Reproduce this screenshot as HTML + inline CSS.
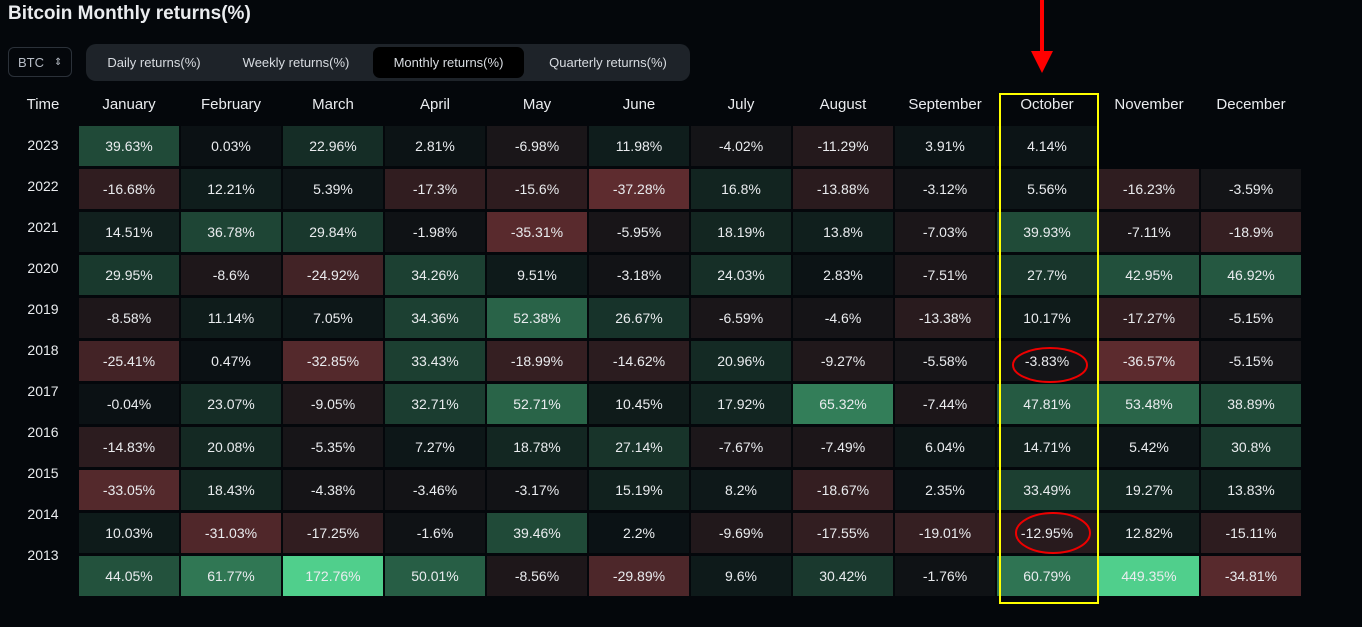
<!DOCTYPE html>
<html><head><meta charset="utf-8"><style>
body{margin:0;width:1362px;height:627px;background:#04070b;overflow:hidden;font-family:"Liberation Sans","DejaVu Sans",sans-serif;color:#eaecef;position:relative}
.abs{position:absolute}
#title{left:8px;top:3px;font-size:19px;font-weight:bold;color:#eaecef}
#sel{left:8px;top:47px;width:64px;height:30px;border:1px solid #2b3139;border-radius:6px;font-size:13px;line-height:30px;box-sizing:border-box;padding-left:9px;color:#b7bdc6}
#tabs{left:86px;top:44px;width:604px;height:37px;background:#1e2329;border-radius:10px}
.tab{position:absolute;top:3px;height:31px;line-height:31px;font-size:13px;text-align:center;border-radius:7px;color:#d8dce1}
</style></head><body>
<div class="abs" id="title">Bitcoin Monthly returns(%)</div>
<div class="abs" id="sel">BTC <span style="position:absolute;left:45px;font-size:10px">⇕</span></div>
<div class="abs" id="tabs">
<div class="tab" style="left:4px;width:128px">Daily returns(%)</div>
<div class="tab" style="left:137px;width:146px">Weekly returns(%)</div>
<div class="tab" style="left:287px;width:151px;background:#000">Monthly returns(%)</div>
<div class="tab" style="left:443px;width:158px">Quarterly returns(%)</div>
</div>
<svg class="abs" style="left:0;top:0" width="1362" height="627" id="chart"></svg>
<script>
const months=["January","February","March","April","May","June","July","August","September","October","November","December"];
const years=["2023","2022","2021","2020","2019","2018","2017","2016","2015","2014","2013"];
const v2023=[39.63,0.03,22.96,2.81,-6.98,11.98,-4.02,-11.29,3.91,4.14,null,null];
const v2022=[-16.68,12.21,5.39,-17.3,-15.6,-37.28,16.8,-13.88,-3.12,5.56,-16.23,-3.59];
const v2021=[14.51,36.78,29.84,-1.98,-35.31,-5.95,18.19,13.8,-7.03,39.93,-7.11,-18.9];
const v2020=[29.95,-8.6,-24.92,34.26,9.51,-3.18,24.03,2.83,-7.51,27.7,42.95,46.92];
const v2019=[-8.58,11.14,7.05,34.36,52.38,26.67,-6.59,-4.6,-13.38,10.17,-17.27,-5.15];
const v2018=[-25.41,0.47,-32.85,33.43,-18.99,-14.62,20.96,-9.27,-5.58,-3.83,-36.57,-5.15];
const v2017=[-0.04,23.07,-9.05,32.71,52.71,10.45,17.92,65.32,-7.44,47.81,53.48,38.89];
const v2016=[-14.83,20.08,-5.35,7.27,18.78,27.14,-7.67,-7.49,6.04,14.71,5.42,30.8];
const v2015=[-33.05,18.43,-4.38,-3.46,-3.17,15.19,8.2,-18.67,2.35,33.49,19.27,13.83];
const v2014=[10.03,-31.03,-17.25,-1.6,39.46,2.2,-9.69,-17.55,-19.01,-12.95,12.82,-15.11];
const v2013=[44.05,61.77,172.76,50.01,-8.56,-29.89,9.6,30.42,-1.76,60.79,449.35,-34.81];
const rows=[v2023,v2022,v2021,v2020,v2019,v2018,v2017,v2016,v2015,v2014,v2013];
const NS="http://www.w3.org/2000/svg",svg=document.getElementById('chart');
const x0=79,pitchX=102,cw=100,y0=126,pitchY=43,ch=40;
const xCol=i=>x0+i*pitchX, yRow=j=>y0+j*pitchY;
function color(v){const base=[11,17,20];let t,top;
 if(v>=0){t=Math.min(v/100,1);t=Math.pow(t,1.3);top=[80,207,140];}else{t=Math.min(-v/50,1);top=[122,53,56];}
 return 'rgb('+base.map((b,k)=>Math.round(b+(top[k]-b)*t)).join(',')+')';}
function mk(tag,a){const e=document.createElementNS(NS,tag);for(const k in a)e.setAttribute(k,a[k]);svg.appendChild(e);return e;}
let t=mk('text',{x:43,y:109,'text-anchor':'middle','font-size':15,fill:'#eaecef'});t.textContent='Time';


months.forEach((m,i)=>{const e=mk('text',{x:xCol(i)+cw/2,y:109,'text-anchor':'middle','font-size':15,fill:'#eaecef'});e.textContent=m;

});
years.forEach((y,j)=>{const e=mk('text',{x:43,y:150+j*41,'text-anchor':'middle','font-size':14,fill:'#eaecef'});e.textContent=y;

});
rows.forEach((r,j)=>r.forEach((v,i)=>{if(v===null)return;
 const c=mk('rect',{x:xCol(i),y:yRow(j),width:cw,height:ch,fill:color(v)});
 
 
 const e=mk('text',{x:xCol(i)+cw/2,y:yRow(j)+25,'text-anchor':'middle','font-size':14,fill:'#eaecef'});e.textContent=v+'%';
 
 }));
let h=mk('rect',{x:1000,y:94,width:98,height:509,fill:'none',stroke:'#ffff00','stroke-width':2});


let a=mk('rect',{x:1040,y:0,width:4,height:55,fill:'#f00'});


let ah=mk('polygon',{points:'1031,51 1053,51 1042,73',fill:'#f00'});


let e1=mk('ellipse',{cx:1050,cy:365,rx:37,ry:17,fill:'none',stroke:'#e00','stroke-width':2});


let e2=mk('ellipse',{cx:1053,cy:533,rx:37,ry:20,fill:'none',stroke:'#e00','stroke-width':2});


</script>
</body></html>
